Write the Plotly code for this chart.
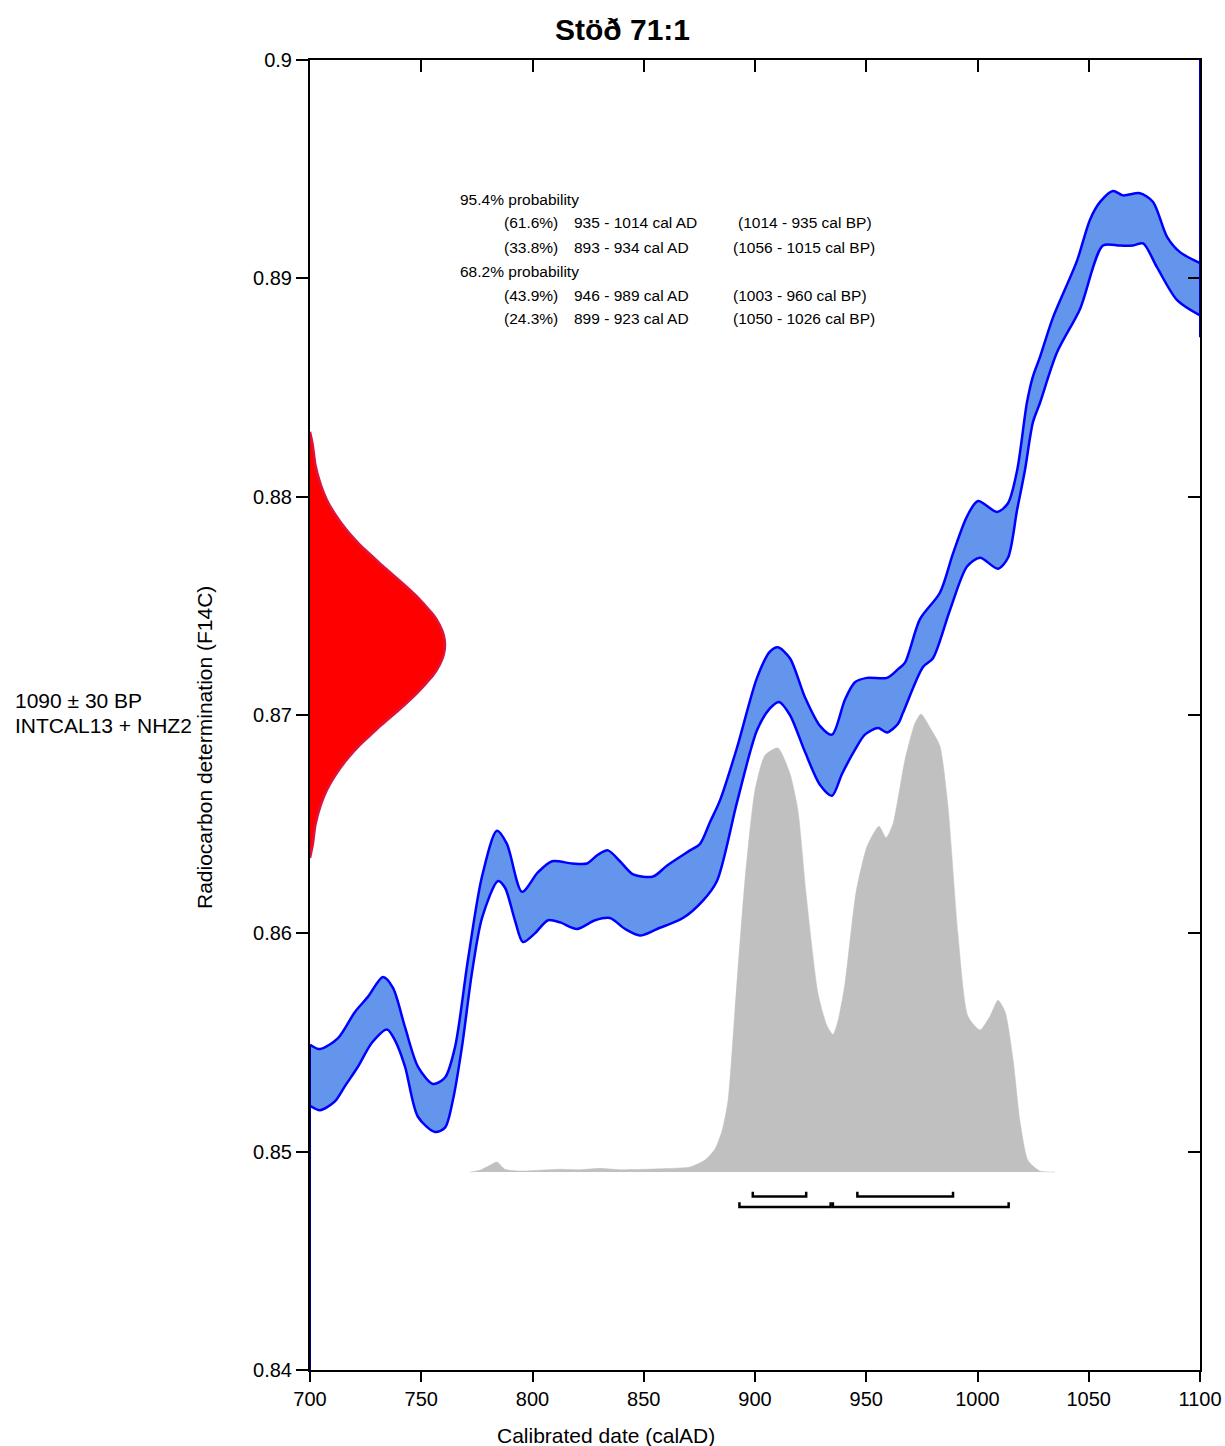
import plotly.graph_objects as go

# --- calibration curve band (IntCal13 + NHZ2), F14C ---
curve_upper_year = [700.0, 704.5, 712.6, 720.2, 726.1, 732.8, 737.3, 742.7, 748.5, 755.3,
                    760.7, 765.2, 771.0, 777.3, 784.0, 788.5, 795.3, 802.5, 808.8, 817.8,
                    824.5, 829.4, 833.9, 839.3, 845.2, 854.2, 860.4, 870.8, 875.3, 879.8,
                    884.3, 891.9, 900.9, 906.7, 910.3, 915.7, 922.5, 929.2, 934.6, 940.4,
                    944.9, 950.3, 959.3, 964.3, 967.4, 974.2, 983.1, 989.0, 995.3, 1000.2,
                    1008.8, 1013.7, 1017.8, 1022.2, 1024.9, 1028.1, 1033.9, 1044.7, 1050.6, 1055.1,
                    1060.9, 1065.4, 1073.0, 1078.9, 1085.2, 1091.0, 1100.0]
curve_upper_f14c = [0.8549, 0.8547, 0.8552, 0.8564, 0.8571, 0.8580, 0.8575, 0.8557, 0.8539, 0.8531,
                    0.8534, 0.8548, 0.8588, 0.8626, 0.8647, 0.8641, 0.8619, 0.8628, 0.8633, 0.8632,
                    0.8632, 0.8636, 0.8638, 0.8633, 0.8627, 0.8626, 0.8631, 0.8638, 0.8641, 0.8651,
                    0.8661, 0.8685, 0.8717, 0.8729, 0.8731, 0.8726, 0.8708, 0.8695, 0.8691, 0.8707,
                    0.8715, 0.8717, 0.8717, 0.8721, 0.8724, 0.8744, 0.8756, 0.8774, 0.8791, 0.8798,
                    0.8793, 0.8797, 0.8812, 0.8843, 0.8855, 0.8864, 0.8882, 0.8908, 0.8927, 0.8935,
                    0.8940, 0.8938, 0.8939, 0.8935, 0.8919, 0.8912, 0.8907]

curve_lower_year = [700.0, 704.5, 711.2, 715.7, 721.6, 727.9, 734.6, 738.2, 742.7, 748.5,
                    756.2, 760.7, 764.3, 768.3, 772.8, 777.3, 784.5, 787.6, 792.1, 795.7,
                    801.1, 807.0, 812.4, 820.0, 828.1, 834.8, 841.6, 848.3, 856.0, 867.6,
                    876.6, 882.9, 891.9, 900.9, 906.7, 910.8, 915.7, 922.5, 929.2, 934.6,
                    939.1, 944.9, 949.4, 955.3, 959.3, 964.3, 966.5, 975.5, 980.0, 987.6,
                    995.3, 1001.1, 1009.2, 1013.7, 1017.8, 1021.3, 1024.9, 1028.1, 1035.7, 1046.1,
                    1056.4, 1064.0, 1069.9, 1074.4, 1080.7, 1089.7, 1100.0]
curve_lower_f14c = [0.8521, 0.8519, 0.8523, 0.8530, 0.8539, 0.8550, 0.8556, 0.8551, 0.8539, 0.8516,
                    0.8509, 0.8511, 0.8524, 0.8548, 0.8582, 0.8607, 0.8624, 0.8621, 0.8606, 0.8596,
                    0.8600, 0.8606, 0.8605, 0.8602, 0.8606, 0.8607, 0.8602, 0.8599, 0.8602, 0.8607,
                    0.8615, 0.8624, 0.8660, 0.8693, 0.8703, 0.8706, 0.8700, 0.8683, 0.8668, 0.8663,
                    0.8673, 0.8684, 0.8691, 0.8694, 0.8692, 0.8696, 0.8701, 0.8722, 0.8726, 0.8748,
                    0.8768, 0.8772, 0.8767, 0.8772, 0.8794, 0.8812, 0.8834, 0.8843, 0.8866, 0.8886,
                    0.8915, 0.8915, 0.8915, 0.8916, 0.8905, 0.8890, 0.8883]

# --- measured date 1090 +/- 30 BP as F14C, relative probability ---
meas_f14c = [0.88297, 0.88237, 0.88145, 0.88054, 0.87985, 0.87916, 0.87848, 0.87779, 0.87733,
             0.87687, 0.87642, 0.87596, 0.87550, 0.87504, 0.87458, 0.87413, 0.87367, 0.87321,
             0.87275, 0.87229, 0.87184, 0.87138, 0.87092, 0.87046, 0.87000, 0.86955, 0.86909,
             0.86863, 0.86794, 0.86726, 0.86657, 0.86588, 0.86497, 0.86405, 0.86345]
meas_prob = [0.0, 0.02, 0.04, 0.08, 0.125, 0.19, 0.27, 0.37, 0.45,
             0.53, 0.615, 0.70, 0.78, 0.85, 0.915, 0.96, 0.99, 1.0,
             0.99, 0.96, 0.915, 0.85, 0.78, 0.70, 0.615, 0.53, 0.45,
             0.37, 0.27, 0.19, 0.125, 0.08, 0.04, 0.02, 0.0]

# --- calibrated date distribution (relative probability) ---
cal_year = [771.9, 776.4, 780.9, 784.0, 787.6, 794.4, 803.4, 812.4, 821.3, 830.3,
            839.3, 857.3, 870.8, 877.5, 882.0, 885.2, 887.9, 891.0, 895.5, 900.0,
            904.5, 910.3, 915.7, 919.3, 922.9, 928.3, 932.3, 935.1, 937.3, 940.4,
            945.4, 950.3, 955.7, 958.9, 962.0, 967.4, 971.9, 974.6, 978.7, 983.1,
            986.7, 991.2, 995.7, 1001.1, 1005.6, 1009.2, 1012.4, 1016.0, 1019.1, 1022.7,
            1028.1, 1034.8]
cal_prob = [0.0, 0.004, 0.015, 0.022, 0.006, 0.002, 0.004, 0.006, 0.005, 0.008,
            0.005, 0.007, 0.011, 0.026, 0.05, 0.09, 0.157, 0.354, 0.638, 0.834,
            0.91, 0.926, 0.87, 0.79, 0.61, 0.39, 0.32, 0.30, 0.33, 0.41,
            0.61, 0.71, 0.755, 0.73, 0.76, 0.90, 0.98, 1.0, 0.97, 0.93,
            0.80, 0.52, 0.34, 0.31, 0.34, 0.375, 0.35, 0.245, 0.11, 0.025,
            0.002, 0.0]

# --- calibrated ranges ---
range95_start = [893, 935]
range95_end = [934, 1014]
range68_start = [899, 946]
range68_end = [923, 989]

text_rows = [
    ("95.4% probability", "", "", ""),
    ("", "(61.6%)", "935 - 1014 cal AD", "(1014 - 935 cal BP)"),
    ("", "(33.8%)", "893 - 934 cal AD", "(1056 - 1015 cal BP)"),
    ("68.2% probability", "", "", ""),
    ("", "(43.9%)", "946 - 989 cal AD", "(1003 - 960 cal BP)"),
    ("", "(24.3%)", "899 - 923 cal AD", "(1050 - 1026 cal BP)"),
]

X_MIN, X_MAX = 700, 1100
Y_MIN, Y_MAX = 0.84, 0.9

# plot area in pixels
L, R, T, B = 310, 1200, 60, 1370
W, H = 1225, 1446


def px(x):
    return (x - L) / (R - L)


def py(y):
    return (B - y) / (B - T)


def f_at(ypix):
    return Y_MIN + (B - ypix) / (B - T) * (Y_MAX - Y_MIN)


fig = go.Figure()

# calibration band
fig.add_trace(go.Scatter(x=curve_lower_year, y=curve_lower_f14c, mode="lines",
                         line=dict(color="#0000FF", width=2.5, shape="spline", smoothing=0.8),
                         hoverinfo="skip"))
fig.add_trace(go.Scatter(x=curve_upper_year, y=curve_upper_f14c, mode="lines",
                         line=dict(color="#0000FF", width=2.5, shape="spline", smoothing=0.8),
                         fill="tonexty", fillcolor="#6495ED", hoverinfo="skip"))

# calibrated distribution
fig.add_trace(go.Scatter(x=cal_year, y=cal_prob, yaxis="y2", mode="lines",
                         line=dict(color="#C0C0C0", width=0.5, shape="spline", smoothing=0.6),
                         fill="tozeroy", fillcolor="#C0C0C0", hoverinfo="skip"))

# measurement
fig.add_trace(go.Scatter(x=meas_prob, y=meas_f14c, xaxis="x2", mode="lines",
                         line=dict(color="#DC143C", width=2.5, shape="spline", smoothing=0.6),
                         fill="toself", fillcolor="#FF0000", hoverinfo="skip"))

# range brackets
tick_h = 0.00022
for starts, ends, level in [(range95_start, range95_end, f_at(1207)),
                            (range68_start, range68_end, f_at(1196.5))]:
    bx, by = [], []
    for s, e in zip(starts, ends):
        bx += [s, s, e, e, None]
        by += [level + tick_h, level, level, level + tick_h, None]
    fig.add_trace(go.Scatter(x=bx, y=by, mode="lines", line=dict(color="black", width=2.5),
                             hoverinfo="skip"))

# dummy trace so the mirror axes are drawn
fig.add_trace(go.Scatter(x=[], y=[], xaxis="x3", yaxis="y3"))

# band outline running off the plot along the frame (drawn over the axis lines)
fig.add_shape(type="line", xref="x", yref="y", x0=X_MIN, x1=X_MIN,
              y0=curve_upper_f14c[0], y1=Y_MIN, line=dict(color="#00008B", width=2),
              layer="above")
fig.add_shape(type="line", xref="x", yref="y", x0=X_MAX, x1=X_MAX,
              y0=Y_MAX, y1=curve_lower_f14c[-1] - 0.001, line=dict(color="#0000CD", width=2),
              layer="above")

axis_common = dict(showgrid=False, zeroline=False, showline=True, linecolor="black",
                   linewidth=2, tickcolor="black", tickwidth=2, automargin=False)

fig.update_layout(
    template="none",
    width=W, height=H,
    margin=dict(l=L, r=W - R, t=T, b=H - B, autoexpand=False),
    plot_bgcolor="white", paper_bgcolor="white",
    showlegend=False,
    font=dict(family="Liberation Sans, Arial, sans-serif", color="black"),
    xaxis=dict(range=[X_MIN, X_MAX], tickvals=list(range(700, 1101, 50)),
               ticks="outside", ticklen=10, tickfont=dict(size=20), **axis_common),
    yaxis=dict(range=[Y_MIN, Y_MAX], tickvals=[0.84, 0.85, 0.86, 0.87, 0.88, 0.89, 0.9],
               ticktext=["0.84", "0.85", "0.86", "0.87", "0.88", "0.89", "0.9"],
               ticks="outside", ticklen=12, tickfont=dict(size=20), **axis_common),
    xaxis2=dict(overlaying="x", range=[0, (R - L) / 135], visible=False),
    yaxis2=dict(overlaying="y", range=[-(B - 1172) / 458, (1172 - T) / 458], visible=False),
    xaxis3=dict(overlaying="x", side="top", range=[X_MIN, X_MAX],
                tickvals=list(range(750, 1051, 50)), ticks="inside", ticklen=12,
                showticklabels=False, **axis_common),
    yaxis3=dict(overlaying="y", side="right", range=[Y_MIN, Y_MAX],
                tickvals=[0.85, 0.86, 0.87, 0.88, 0.89], ticks="inside", ticklen=12,
                showticklabels=False, **axis_common),
)

ann = []
ann.append(dict(text="<b>Stöð 71:1</b>", x=px(622), y=py(29), font=dict(size=30),
                xanchor="center", yanchor="middle"))
ann.append(dict(text="Calibrated date (calAD)", x=px(606), y=py(1435), font=dict(size=21),
                xanchor="center", yanchor="middle"))
ann.append(dict(text="Radiocarbon determination (F14C)", x=px(204), y=py(748), textangle=-90,
                font=dict(size=21), xanchor="center", yanchor="middle"))
ann.append(dict(text="1090 ± 30 BP", x=px(13), y=py(700), font=dict(size=21),
                xanchor="left", yanchor="middle"))
ann.append(dict(text="INTCAL13 + NHZ2", x=px(13), y=py(726), font=dict(size=21),
                xanchor="left", yanchor="middle"))

row_y = [199, 223, 247, 271, 295, 319]
bp_x = [0, 736, 731, 0, 731, 731]
for (head, pct, ad, bp), yy, bx0 in zip(text_rows, row_y, bp_x):
    for txt, xx in [(head, 458), (pct, 502), (ad, 572), (bp, bx0)]:
        if txt:
            ann.append(dict(text=txt, x=px(xx), y=py(yy), font=dict(size=15.5),
                            xanchor="left", yanchor="middle"))

for a in ann:
    a.update(xref="paper", yref="paper", showarrow=False)
fig.update_layout(annotations=ann)

# drop the default page margin so the figure fills the window exactly
fig.write_html("out.html", config={"displayModeBar": False},
               post_script="document.body.style.margin='0';")
